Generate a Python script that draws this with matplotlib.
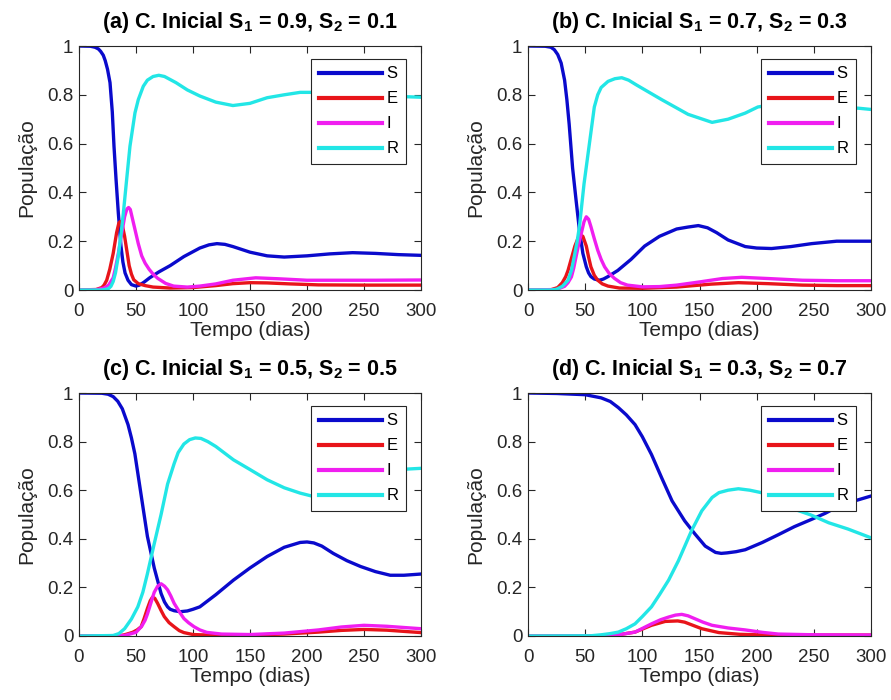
import matplotlib
matplotlib.use("Agg")
import matplotlib.pyplot as plt

plt.rcParams['font.family'] = ['Liberation Sans', 'DejaVu Sans']
plt.rcParams['mathtext.fontset'] = 'custom'
plt.rcParams['mathtext.rm'] = 'Liberation Sans:bold'
plt.rcParams['mathtext.default'] = 'rm'

# ---- data (t in days, population fraction) ----
titles = [r'(a) C. Inicial S$_1$ = 0.9, S$_2$ = 0.1',
          r'(b) C. Inicial S$_1$ = 0.7, S$_2$ = 0.3',
          r'(c) C. Inicial S$_1$ = 0.5, S$_2$ = 0.5',
          r'(d) C. Inicial S$_1$ = 0.3, S$_2$ = 0.7']
labels = ['S', 'E', 'I', 'R']
colors = ['#0a0acc', '#e8141a', '#f01ef0', '#22e6e6']

# panel a
t_S_a = [0, 10, 14, 17, 19, 21.3, 23, 25, 27.2, 29.2, 30.7, 32.5, 34.5, 36.8, 38.5, 40.4, 43, 46, 50, 53,
         57, 62, 70, 80, 92, 106, 114, 121, 128, 135, 150, 165, 180, 200, 220, 240, 260, 280, 300]
S_a = [1, 0.999, 0.995, 0.988, 0.978, 0.962, 0.94, 0.905, 0.85, 0.73, 0.589, 0.453, 0.315, 0.18, 0.115,
       0.07, 0.04, 0.022, 0.016, 0.02, 0.032, 0.05, 0.074, 0.1, 0.137, 0.172, 0.185, 0.19, 0.187, 0.178,
       0.155, 0.14, 0.135, 0.14, 0.148, 0.153, 0.15, 0.145, 0.142]
t_E_a = [0, 15, 20, 22, 24.3, 27, 30, 33, 35, 36, 38, 40, 42, 44, 46, 48, 52, 58, 65, 80, 100, 120, 135,
         150, 165, 185, 210, 250, 300]
E_a = [0, 0.002, 0.01, 0.02, 0.04, 0.085, 0.15, 0.235, 0.275, 0.28, 0.265, 0.22, 0.16, 0.1, 0.065, 0.042,
       0.026, 0.018, 0.012, 0.008, 0.01, 0.018, 0.026, 0.03, 0.029, 0.025, 0.021, 0.02, 0.02]
t_I_a = [0, 15, 22, 26, 30, 32, 34.5, 37.4, 40, 42, 43.5, 45, 47, 49, 52, 55, 58, 61.5, 65, 69, 76, 83, 95,
         106, 120, 135, 155, 175, 200, 230, 260, 300]
I_a = [0, 0.001, 0.008, 0.02, 0.05, 0.09, 0.15, 0.23, 0.3, 0.332, 0.338, 0.33, 0.29, 0.25, 0.19, 0.14,
       0.11, 0.085, 0.065, 0.048, 0.027, 0.016, 0.012, 0.016, 0.025, 0.04, 0.05, 0.046, 0.04, 0.04, 0.04, 0.041]
t_R_a = [0, 20, 25.7, 28, 30, 32, 34.5, 37, 38.9, 41.8, 44.7, 49.1, 52, 56.4, 60, 65, 70, 75, 85, 95, 106,
         120, 135, 150, 165, 180, 194, 210, 230, 250, 270, 300]
R_a = [0, 0, 0.005, 0.015, 0.035, 0.07, 0.14, 0.235, 0.315, 0.453, 0.589, 0.726, 0.78, 0.835, 0.86, 0.875,
       0.88, 0.875, 0.85, 0.82, 0.795, 0.77, 0.756, 0.765, 0.788, 0.8, 0.81, 0.81, 0.805, 0.8, 0.795, 0.79]

# panel b
t_S_b = [0, 15, 20, 23, 26, 29, 32, 34, 36, 39, 42, 45, 48, 51, 53, 55, 58, 62.5, 66, 70, 78.5, 90, 102,
         115, 130, 140, 149, 157, 165, 175, 190, 200, 213, 230, 248, 270, 300]
S_b = [1, 0.999, 0.995, 0.985, 0.965, 0.93, 0.86, 0.78, 0.68, 0.5, 0.37, 0.245, 0.15, 0.095, 0.07, 0.055,
       0.045, 0.04, 0.045, 0.055, 0.08, 0.125, 0.18, 0.22, 0.25, 0.258, 0.264, 0.255, 0.235, 0.205, 0.178,
       0.172, 0.17, 0.178, 0.19, 0.2, 0.2]
t_E_b = [0, 20, 26, 30, 33, 35, 38, 41, 44, 46, 48, 51, 53, 55, 58, 61, 65, 70, 80, 100, 130, 160, 184,
         210, 240, 270, 300]
E_b = [0, 0.001, 0.01, 0.03, 0.055, 0.08, 0.13, 0.18, 0.215, 0.225, 0.22, 0.18, 0.135, 0.095, 0.06, 0.04,
       0.025, 0.016, 0.008, 0.007, 0.012, 0.024, 0.03, 0.026, 0.02, 0.018, 0.018]
t_I_b = [0, 25, 32, 35, 38, 40, 42, 44, 46.5, 49, 51, 53, 55, 58, 61, 64, 67, 71, 75.5, 81, 87, 100, 115,
         130, 150, 170, 187, 210, 240, 270, 300]
I_b = [0, 0.002, 0.015, 0.03, 0.054, 0.09, 0.136, 0.18, 0.23, 0.28, 0.3, 0.29, 0.26, 0.21, 0.163, 0.125,
       0.095, 0.068, 0.048, 0.03, 0.02, 0.013, 0.014, 0.02, 0.033, 0.047, 0.052, 0.047, 0.04, 0.038, 0.038]
t_R_b = [0, 20, 25, 30, 35, 38, 41, 43, 45, 49, 54, 58, 61, 64, 70, 76, 82, 88, 95, 117, 140, 161, 175,
         190, 201, 220, 240, 260, 289, 300]
R_b = [0, 0, 0.003, 0.015, 0.04, 0.08, 0.15, 0.2, 0.26, 0.435, 0.61, 0.75, 0.8, 0.83, 0.855, 0.866, 0.87,
       0.86, 0.84, 0.78, 0.72, 0.687, 0.7, 0.725, 0.75, 0.765, 0.76, 0.75, 0.745, 0.74]

# panel c
t_S_c = [0, 20, 25.5, 30, 34, 38, 43, 46, 49, 54.5, 60, 66, 72, 75, 77.7, 80, 83.5, 89, 95, 100, 106, 120,
         135.5, 150, 165, 180, 194, 200, 206, 213, 223, 235, 247, 260, 273, 285, 300]
S_c = [1, 0.999, 0.995, 0.985, 0.966, 0.935, 0.87, 0.815, 0.75, 0.58, 0.41, 0.28, 0.175, 0.14, 0.12, 0.11,
       0.104, 0.1, 0.103, 0.11, 0.12, 0.17, 0.23, 0.28, 0.327, 0.365, 0.385, 0.387, 0.383, 0.37, 0.34, 0.31,
       0.286, 0.265, 0.25, 0.25, 0.255]
t_E_c = [0, 35, 40, 47, 51, 54.5, 57, 60, 62.5, 64.5, 66.5, 69, 72, 74.8, 79, 83.5, 88, 92, 100, 120, 150,
         180, 210, 230, 250, 270, 300]
E_c = [0, 0.001, 0.005, 0.015, 0.025, 0.038, 0.07, 0.113, 0.145, 0.16, 0.155, 0.134, 0.105, 0.08, 0.055,
       0.038, 0.022, 0.014, 0.006, 0.003, 0.004, 0.008, 0.016, 0.023, 0.027, 0.024, 0.014]
t_I_c = [0, 40, 50, 55, 58, 60, 63, 66, 69, 72, 75, 77.7, 80.5, 83.5, 88, 92, 96, 101, 106, 112, 125, 150,
         180, 210, 230, 250, 270, 300]
I_c = [0, 0.002, 0.015, 0.04, 0.065, 0.09, 0.135, 0.18, 0.205, 0.215, 0.205, 0.19, 0.165, 0.134, 0.1,
       0.072, 0.055, 0.038, 0.025, 0.015, 0.008, 0.006, 0.012, 0.025, 0.037, 0.044, 0.04, 0.03]
t_R_c = [0, 30, 35, 40, 46, 51.6, 56, 60, 66, 72, 77.7, 83.5, 87, 92, 97, 102, 107, 113, 120, 135.5, 150,
         165, 180, 194, 205, 215, 230, 245, 260, 275, 288, 300]
R_c = [0, 0.002, 0.01, 0.03, 0.07, 0.12, 0.18, 0.256, 0.38, 0.5, 0.625, 0.71, 0.755, 0.79, 0.808, 0.815,
       0.813, 0.8, 0.78, 0.725, 0.685, 0.643, 0.61, 0.588, 0.575, 0.57, 0.58, 0.61, 0.645, 0.675, 0.687, 0.69]

# panel d
t_S_d = [0, 25, 50, 64, 72, 79, 86, 93.6, 100, 108, 117, 126, 137, 146, 155, 164, 169, 174, 182, 190, 205,
         219, 233, 248, 260, 272, 285, 300]
S_d = [1, 0.998, 0.993, 0.98, 0.965, 0.94, 0.91, 0.87, 0.82, 0.747, 0.65, 0.556, 0.474, 0.42, 0.37, 0.344,
       0.34, 0.342, 0.347, 0.355, 0.385, 0.417, 0.45, 0.48, 0.505, 0.535, 0.555, 0.576]
t_E_d = [0, 70, 79, 93.6, 108, 120, 131, 137, 152, 167, 185, 200, 230, 300]
E_d = [0, 0.001, 0.005, 0.016, 0.044, 0.06, 0.062, 0.057, 0.03, 0.014, 0.007, 0.005, 0.004, 0.004]
t_I_d = [0, 70, 79, 93.6, 108, 116, 123, 129, 134.5, 140, 146, 153, 161, 175, 190, 205, 219, 250, 300]
I_d = [0, 0.001, 0.005, 0.016, 0.05, 0.067, 0.078, 0.086, 0.089, 0.083, 0.071, 0.057, 0.044, 0.033, 0.025,
       0.015, 0.008, 0.005, 0.004]
t_R_d = [0, 55, 64, 72, 79, 86, 93.6, 100, 108, 115, 123, 131.6, 143, 152, 161, 167, 175, 184, 194, 204,
         220, 234, 248, 263, 280, 300]
R_d = [0, 0.001, 0.005, 0.01, 0.016, 0.03, 0.05, 0.08, 0.12, 0.17, 0.23, 0.31, 0.433, 0.515, 0.57, 0.59,
       0.6, 0.606, 0.6, 0.59, 0.565, 0.52, 0.497, 0.466, 0.44, 0.404]

panels = [
    [(t_S_a, S_a), (t_E_a, E_a), (t_I_a, I_a), (t_R_a, R_a)],
    [(t_S_b, S_b), (t_E_b, E_b), (t_I_b, I_b), (t_R_b, R_b)],
    [(t_S_c, S_c), (t_E_c, E_c), (t_I_c, I_c), (t_R_c, R_c)],
    [(t_S_d, S_d), (t_E_d, E_d), (t_I_d, I_d), (t_R_d, R_d)],
]

xticks = [0, 50, 100, 150, 200, 250, 300]
yticks = [0, 0.2, 0.4, 0.6, 0.8, 1]
ytick_labels = ['0', '0.2', '0.4', '0.6', '0.8', '1']

W, H = 891, 700
# axes boxes in pixels: left, top, right, bottom
boxes = [(79, 46, 421, 290), (528, 46, 871, 290), (79, 393, 421, 636), (528, 393, 871, 636)]

fig = plt.figure(figsize=(W / 100, H / 100), dpi=100)
ink = '#262626'

for box, title, curves in zip(boxes, titles, panels):
    l, t, r, b = box
    ax = fig.add_axes([l / W, 1 - b / H, (r - l) / W, (b - t) / H])
    for (tt, yy), lab, c in zip(curves, labels, colors):
        ax.plot(tt, yy, color=c, lw=2.4, label=lab, solid_joinstyle='round')
    ax.set_xlim(0, 300)
    ax.set_ylim(0, 1)
    ax.set_xticks(xticks)
    ax.set_yticks(yticks)
    ax.set_yticklabels(ytick_labels)
    ax.tick_params(direction='in', top=True, right=True, length=5, width=0.8,
                   labelsize=13.5, colors=ink)
    ax.tick_params(axis='x', pad=9)
    ax.tick_params(axis='y', pad=4)
    for s in ax.spines.values():
        s.set_color(ink)
        s.set_linewidth(0.8)
    ax.set_xlabel('Tempo (dias)', fontsize=15, color=ink, labelpad=1)
    ax.set_ylabel('População', fontsize=15, color=ink, labelpad=8)
    ax.set_title(title, fontsize=15.5, fontweight='bold', color='black', pad=13)
    leg = ax.legend(loc='upper right', bbox_to_anchor=(0.956, 0.947), borderaxespad=0,
                    fontsize=12, handlelength=3.8, handletextpad=0.25, labelspacing=0.6,
                    borderpad=0.45, fancybox=False, framealpha=1, edgecolor=ink)
    leg.get_frame().set_linewidth(0.8)
    for h in leg.get_lines():
        h.set_linewidth(3)

fig.savefig('out.png', dpi=100)
